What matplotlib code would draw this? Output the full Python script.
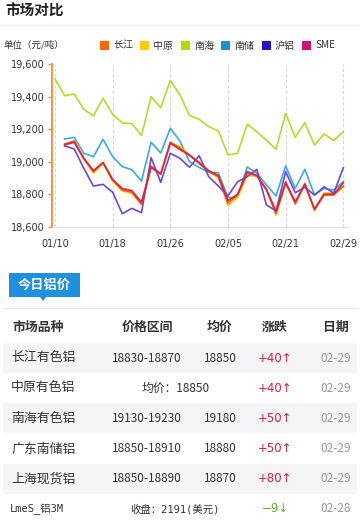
import numpy as np
import matplotlib
matplotlib.use('Agg')
import matplotlib.pyplot as plt
from matplotlib.patches import Rectangle, Polygon
from matplotlib.lines import Line2D

plt.rcParams['font.family'] = ['Noto Sans CJK SC', 'DejaVu Sans']

# ---- chart data (31 trading days, labels every 6th) ----
tick_labels = ['01/10', '01/18', '01/26', '02/05', '02/21', '02/29']
nan = np.nan
changjiang = [nan, 19109, 19128, 19021, 18939, 18996, 18888, 18826, 18812, 18740, 18974,
              18923, 19120, 19083, 19042, 18990, 18939, 18908, 18744, 18795, 18929,
              18914, 18826, 18682, 18877, 18740, 18867, 18703, 18795, 18795, 18850]
zhongyuan = [nan, 19100, 19120, 19015, 18930, 18990, 18880, 18820, 18805, 18735, 18965,
             18925, 19115, 19095, 19040, 18985, 18945, 18900, 18730, 18780, 18915,
             18910, 18830, 18670, 18865, 18745, 18860, 18700, 18810, 18805, 18845]
nanhai = [19510, 19407, 19417, 19323, 19282, 19391, 19292, 19239, 19235, 19161, 19401,
          19333, 19500, 19411, 19284, 19261, 19216, 19190, 19042, 19052, 19231,
          19185, 19132, 19077, 19298, 19150, 19240, 19103, 19171, 19130, 19185]
nanchu = [nan, 19140, 19150, 19052, 19031, 19138, 19031, 18970, 18951, 18881, 19120,
          19054, 19206, 19128, 19000, 18965, 18935, 18932, 18779, 18782, 18968,
          18929, 18857, 18789, 18974, 18836, 18953, 18795, 18836, 18826, 18877]
hulv = [nan, 19097, 19079, 18959, 18850, 18861, 18812, 18680, 18713, 18686, 19025,
        18873, 19052, 19021, 18966, 19037, 18908, 18850, 18789, 18877, 18908,
        18953, 18734, 18697, 18939, 18809, 18843, 18795, 18846, 18806, 18963]
sme = [nan, 19105, 19120, 19020, 18945, 18995, 18890, 18835, 18822, 18750, 18965,
       18925, 19115, 19075, 19040, 18995, 18945, 18915, 18760, 18800, 18940,
       18915, 18830, 18695, 18870, 18755, 18860, 18710, 18800, 18800, 18870]

series_names = ['长江', '中原', '南海', '南储', '沪铝', 'SME']
series_vals = [changjiang, zhongyuan, nanhai, nanchu, hulv, sme]
legend_colors = ['#FF6600', '#FFCC00', '#AADD00', '#1E8FD5', '#2A10C8', '#CC1177']
line_colors = ['#F25A10', '#FFCC00', '#B5DB2A', '#3AAAE0', '#6A48E0', '#E0204A']

# ---- table data ----
markets = ['长江有色铝', '中原有色铝', '南海有色铝', '广东南储铝', '上海现货铝', 'LmeS_铝3M']
ranges = ['18830-18870', '', '19130-19230', '18850-18910', '18850-18890', '']
avgs = ['18850', '', '19180', '18880', '18870', '']
merged = ['', '均价：18850', '', '', '', '收盘：2191(美元)']
changes = ['+40', '+40', '+50', '+50', '+80', '−9']
dates = ['02-29', '02-29', '02-29', '02-29', '02-29', '02-28']

W, H = 360, 522
fig = plt.figure(figsize=(W / 100, H / 100), dpi=100)
fig.patch.set_facecolor('white')


def fx(x):
    return x / W


def fy(y):
    return 1 - y / H


# title
fig.text(fx(5), fy(11), '市场对比', fontsize=10.5, fontweight='bold', color='#222222', va='center')
fig.add_artist(Line2D([0, 1], [fy(25), fy(25)], color='#eeeeee', lw=1))

# unit + legend
fig.text(fx(3), fy(45), '单位（元/吨）', fontsize=6.8, color='#333333', va='center')
leg_x = [100, 140, 181, 221, 262, 302]
for lx, name, c in zip(leg_x, series_names, legend_colors):
    fig.add_artist(Rectangle((fx(lx), fy(50)), fx(9), 9 / H, color=c, lw=0))
    fig.text(fx(lx + 13), fy(45.5), name, fontsize=7.2, color='#333333', va='center')

# chart
x0, x1, ytop, ybot = 52, 347, 64.3, 226.7
ax = fig.add_axes([fx(x0), fy(ybot), fx(x1 - x0), (ybot - ytop) / H])
step = (343.3 - 55) / 30
idx = np.arange(31)
order = [2, 3, 1, 0, 4, 5]
for k in order:
    ax.plot(idx, series_vals[k], color=line_colors[k], lw=1.2)
ax.set_xlim(-(55 - x0) / step, (x1 - 55) / step)
ax.set_ylim(18600, 19600)
ax.set_yticks(np.arange(18600, 19601, 200))
ax.set_yticklabels(['{:,}'.format(v) for v in range(18600, 19601, 200)],
                   fontsize=7, color='#333333', family='DejaVu Sans')
ax.set_xticks(idx[::6])
ax.set_xticklabels(tick_labels, fontsize=7, color='#333333', family='DejaVu Sans')
ax.tick_params(axis='y', length=3, width=1, color='#FF8833', pad=2)
ax.tick_params(axis='x', length=0, pad=9)
for t in idx[::6]:
    ax.axvline(t, color='#d8d8d8', lw=0.8, ls=(0, (3, 2)), zorder=0)
for s in ['top', 'right']:
    ax.spines[s].set_visible(False)
ax.spines['left'].set_color('#FF8833')
ax.spines['left'].set_linewidth(1.3)
ax.spines['bottom'].set_color('#dddddd')

# tab "今日铝价"
fig.add_artist(Rectangle((fx(9), fy(297)), fx(71), 24 / H, color='#1E90E0', lw=0))
fig.add_artist(Polygon([[fx(40), fy(297)], [fx(46), fy(297)], [fx(43), fy(301)]],
                       closed=True, color='#1E90E0', lw=0))
fig.text(fx(44.5), fy(285), '今日铝价', fontsize=9.5, fontweight='bold', color='white',
         ha='center', va='center')
fig.add_artist(Line2D([fx(3), fx(357)], [fy(308), fy(308)], color='#e6e6ee', lw=1))

# header
hy = 327
fig.text(fx(12), fy(hy), '市场品种', fontsize=9.3, fontweight='bold', color='#333333', va='center')
fig.text(fx(147), fy(hy), '价格区间', fontsize=9.3, fontweight='bold', color='#333333', va='center', ha='center')
fig.text(fx(220), fy(hy), '均价', fontsize=9.3, fontweight='bold', color='#333333', va='center', ha='center')
fig.text(fx(275), fy(hy), '涨跌', fontsize=9.3, fontweight='bold', color='#333333', va='center', ha='center')
fig.text(fx(336), fy(hy), '日期', fontsize=9.3, fontweight='bold', color='#333333', va='center', ha='center')

row_y = [358, 388, 418, 449, 479, 509]
for i, ry in enumerate(row_y):
    if i % 2 == 0:
        fig.add_artist(Rectangle((fx(3), fy(ry + 15)), fx(354), 30 / H, color='#f5f5f8', lw=0, zorder=0))
    lme = markets[i].startswith('Lme')
    if lme:
        fig.text(fx(10), fy(ry), markets[i], fontsize=7.5, color='#333333', va='center',
                 family=['DejaVu Sans Mono', 'Noto Sans CJK SC'])
    else:
        fig.text(fx(11), fy(ry), markets[i], fontsize=9.3, color='#333333', va='center')
    if merged[i]:
        if lme:
            fig.text(fx(175), fy(ry), merged[i], fontsize=7.5, color='#333333', va='center', ha='center',
                     family=['DejaVu Sans Mono', 'Noto Sans CJK SC'])
        else:
            fig.text(fx(176), fy(ry), merged[i], fontsize=8.5, color='#333333', va='center', ha='center')
    else:
        fig.text(fx(147), fy(ry), ranges[i], fontsize=8.5, color='#333333', va='center', ha='center')
        fig.text(fx(220), fy(ry), avgs[i], fontsize=8.5, color='#333333', va='center', ha='center')
    up = changes[i].startswith('+')
    ccol = '#D4203A' if up else '#66AA33'
    fig.text(fx(275), fy(ry), changes[i] + ('↑' if up else '↓'), fontsize=8.5, color=ccol,
             va='center', ha='center', family=['DejaVu Sans'])
    fig.text(fx(336), fy(ry), dates[i], fontsize=8.5, color='#999999', va='center', ha='center')

fig.savefig('out.png', dpi=100)
